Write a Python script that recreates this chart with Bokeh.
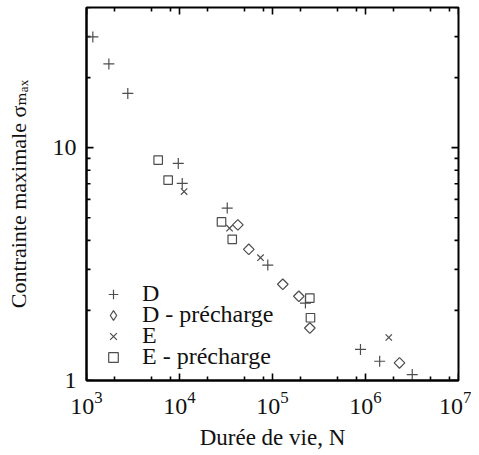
import math
from bokeh.plotting import figure
from bokeh.models import FixedTicker, Legend, LegendItem, LogTickFormatter, Range1d
from bokeh.embed import file_html
from bokeh.resources import INLINE

# ---- data ----
D_N = [1170, 1740, 2780, 9700, 10700, 32600, 89000, 226000, 883000, 1420000, 3180000]
D_S = [29.9, 22.9, 17.1, 8.56, 7.02, 5.50, 3.13, 2.15, 1.36, 1.21, 1.06]

DP_N = [42400, 55600, 129000, 192000, 252000, 2320000]
DP_S = [4.66, 3.66, 2.59, 2.30, 1.68, 1.19]

E_N = [11200, 34500, 74300, 1780000]
E_S = [6.48, 4.51, 3.37, 1.53]

EP_N = [5900, 7550, 28300, 36900, 252000, 256000]
EP_S = [8.85, 7.26, 4.80, 4.04, 2.26, 1.86]

labels = ["D", "D - précharge", "E", "E - précharge"]
x_lim = (1e3, 1e7)
y_lim = (1, 40)
x_major = [1e3, 1e4, 1e5, 1e6, 1e7]
x_minor_mult = [2, 5, 8]
y_major = [1, 10]
y_minor = [2, 3, 4, 5, 6, 7, 8, 9, 20, 30, 40]

FONT = "Liberation Serif, Times New Roman, Times, DejaVu Serif, serif"
FS = "24px"
MK = "#4d4d4d"
TXT = "#111111"

FW, FH = 372, 373
x_minor = [m * d for d in x_major[:-1] for m in x_minor_mult]

p = figure(x_axis_type="log", y_axis_type="log",
           x_range=x_lim, y_range=y_lim,
           frame_width=FW, frame_height=FH,
           min_border_left=86, min_border_right=13,
           min_border_top=7, min_border_bottom=67,
           output_backend="svg", toolbar_location=None)
p.extra_y_ranges = {"off": Range1d(1e6, 2e6)}
p.grid.visible = False
p.outline_line_color = "black"
p.outline_line_width = 2
p.background_fill_color = "white"
p.border_fill_color = "white"

xax = p.below[0]
yax = p.left[0]
xax.ticker = FixedTicker(ticks=x_major, minor_ticks=[])
yax.ticker = FixedTicker(ticks=y_major, minor_ticks=[])
xax.formatter = LogTickFormatter()
yax.major_label_overrides = {1: "1", 10: "10"}
for ax in (xax, yax):
    ax.axis_line_color = "black"
    ax.axis_line_width = 2
    ax.major_tick_in = 0
    ax.major_tick_out = 0
    ax.minor_tick_in = 0
    ax.minor_tick_out = 0
    ax.major_label_text_font = FONT
    ax.major_label_text_font_size = FS
    ax.major_label_text_color = TXT
    ax.axis_label_text_font = FONT
    ax.axis_label_text_font_style = "normal"
    ax.axis_label_text_color = TXT

xax.major_label_standoff = 11
yax.major_label_standoff = 10
xax.axis_label = "Durée de vie, N"
xax.axis_label_text_font_size = "23px"
xax.axis_label_standoff = 8
yax.axis_label = "Contrainte maximale σₘₐₓ"
yax.axis_label_text_font_size = "22px"
yax.axis_label_standoff = 19

# inward tick marks on the four sides of the box (lengths in pixels,
# converted to the log-scale factor that spans that many pixels)
px_x = FW / math.log10(x_lim[1] / x_lim[0])
px_y = FH / math.log10(y_lim[1] / y_lim[0])
TK = dict(line_color="black", line_width=1.6)
for ticks, ln in ((x_major, 7), (x_minor, 4)):
    f = 10 ** (ln / px_y)
    n = len(ticks)
    p.segment(ticks, [y_lim[0]] * n, ticks, [y_lim[0] * f] * n, **TK)
    p.segment(ticks, [y_lim[1]] * n, ticks, [y_lim[1] / f] * n, **TK)
for ticks, ln in ((y_major, 7), (y_minor, 4)):
    f = 10 ** (ln / px_x)
    n = len(ticks)
    p.segment([x_lim[0]] * n, ticks, [x_lim[0] * f] * n, ticks, **TK)
    p.segment([x_lim[1]] * n, ticks, [x_lim[1] / f] * n, ticks, **TK)

r1 = p.scatter(D_N, D_S, marker="cross", size=11, line_color=MK, line_width=1.2)
r2 = p.scatter(DP_N, DP_S, marker="square", angle=math.pi / 4, size=7.5,
               line_color=MK, fill_color=None, line_width=1.2)
r3 = p.scatter(E_N, E_S, marker="x", size=9, line_color=MK, line_width=1.2)
r4 = p.scatter(EP_N, EP_S, marker="square", size=8.5, line_color=MK,
               fill_color=None, line_width=1.2)
# legend key for the diamond series (legend glyphs ignore rotation); its points
# sit on an off-screen range so only the legend key is visible
r2_key = p.scatter(DP_N, DP_S, marker="diamond", size=10, line_color=MK,
                   fill_color=None, line_width=1.2, y_range_name="off")

# one single-row legend per entry, so the rows can sit closer than Bokeh's row height
row_y = [73, 52, 31, 10]
for lab, rend, yy in zip(labels, [r1, r2_key, r3, r4], row_y):
    lg = Legend(items=[LegendItem(label=lab, renderers=[rend])],
                location=(15, yy), background_fill_alpha=0, border_line_color=None,
                label_text_font=FONT, label_text_font_size=FS, label_text_color=TXT,
                glyph_width=24, glyph_height=24, label_height=20, spacing=0,
                padding=0, margin=0, label_standoff=17)
    p.add_layout(lg)

open("out.html", "w").write(file_html(p, INLINE))
